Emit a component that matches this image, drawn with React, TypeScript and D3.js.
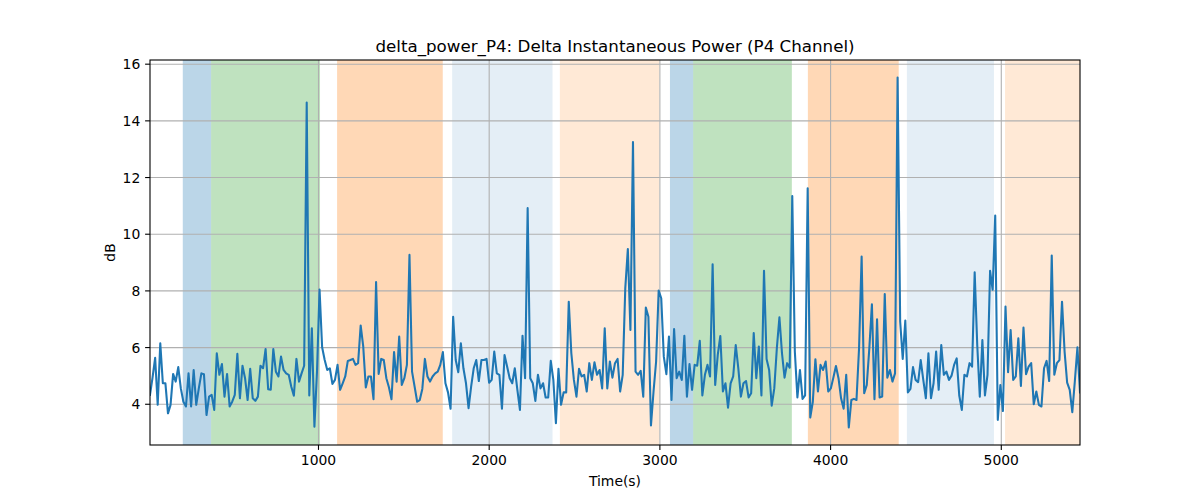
import { useEffect, useRef } from "react";
import * as d3 from "d3";

const WIDTH = 1200;
const HEIGHT = 500;
const MARGIN = { top: 60, right: 120, bottom: 55, left: 150 };

const TITLE = "delta_power_P4: Delta Instantaneous Power (P4 Channel)";
const X_LABEL = "Time(s)";
const Y_LABEL = "dB";

// sampling of the trace (seconds)
const TIME_START = 13;
const TIME_STEP = 15.05;

// delta power in dB, one value per sample
const DB_VALUES = [
  4.33, 4.95, 5.64, 3.98, 6.15, 4.74, 4.74, 3.68, 3.98, 5.07, 4.8,
  5.31, 4.56, 4.09, 3.92, 5.09, 3.92, 5.21, 3.98, 4.56, 5.09,
  5.06, 3.62, 4.27, 4.33, 3.8, 5.8, 5.04, 5.42, 4.27, 5.07,
  3.92, 4.09, 4.33, 5.78, 4.21, 5.36, 4.92, 4.15, 5.25, 4.21,
  4.12, 4.27, 5.36, 5.27, 5.95, 4.53, 4.51, 5.95, 5.15, 4.98,
  5.68, 5.21, 5.09, 5.04, 4.62, 4.3, 5.6, 4.8, 5.09, 5.36, 14.65,
  4.31, 6.68, 3.21, 5.15, 8.05, 6.01, 5.56, 5.21, 5.27, 4.72,
  4.86, 5.39, 4.51, 4.74, 4.98, 5.53, 5.56, 5.6, 5.39,
  5.45, 6.78, 6.04, 4.59, 4.98, 4.98, 4.18, 8.31, 5.07, 5.6,
  5.56, 4.92, 4.6, 4.18, 5.84, 4.8, 6.39, 4.68, 4.92, 5.39,
  9.27, 5.15, 4.62, 4.09, 4.15, 4.54, 5.6, 4.98, 4.8, 4.98,
  5.09, 5.15, 5.39, 5.84, 4.74, 4.42, 3.84, 7.09, 5.56, 5.13, 6.15,
  5.27, 4.74, 3.86, 4.62, 5.27, 5.56, 4.82, 5.56, 5.56, 5.6,
  4.76, 4.86, 5.86, 5.09, 5.04, 3.84, 5.74, 5.33, 4.92, 4.74,
  5.27, 4.51, 3.8, 6.42, 4.92, 10.92, 4.92, 4.74, 4.12, 5.04,
  4.56, 4.74, 4.24, 4.24, 5.53, 4.86, 3.33, 5.25, 3.98, 4.42,
  4.42, 7.62, 5.8, 4.86, 4.27, 5.25, 4.98, 5.04, 4.45, 5.45,
  4.86, 5.48, 5.04, 5.21, 4.56, 6.68, 4.56, 5.51, 4.94, 5.45,
  5.6, 4.45, 5.04, 8.09, 9.48, 6.62, 13.25, 5.15, 5.04, 5.18,
  4.27, 7.41, 7.09, 3.25, 4.45, 5.51, 8.01, 7.74, 5.68, 5.06, 6.39,
  4.15, 6.65, 4.92, 5.15, 4.86, 6.42, 4.27, 5.42, 4.51, 5.39,
  5.36, 6.24, 4.31, 5.04, 5.39, 4.98, 8.94, 4.68, 5.74, 6.41,
  4.45, 4.74, 3.88, 4.74, 4.98, 6.09, 5.27, 4.27, 4.74, 4.82,
  4.24, 4.39, 6.51, 4.92, 6.04, 4.31, 8.71, 5.6, 5.21, 3.95,
  4.56, 5.98, 7.07, 5.8, 4.94, 5.45, 5.29, 11.35, 5.86, 4.24,
  5.21, 4.19, 4.31, 11.62, 3.53, 4.09, 5.59, 4.45, 5.39, 5.21,
  5.51, 4.45, 4.56, 4.94, 5.35, 4.92, 4.21, 3.84, 5.04, 3.18,
  4.15, 4.19, 4.15, 5.98, 9.21, 4.39, 4.68, 5.98, 7.53, 4.18, 7.0,
  4.24, 4.27, 7.89, 4.94, 5.21, 4.8, 5.09, 15.53, 6.92, 5.6,
  6.95, 4.42, 4.54, 5.31, 4.86, 4.78, 5.56, 4.86, 4.21, 5.8,
  4.21, 4.74, 5.86, 4.51, 6.09, 5.04, 5.15, 4.86, 5.01, 5.39,
  5.62, 4.31, 3.8, 5.04, 4.98, 5.45, 5.33, 8.66, 6.09, 4.27, 6.27,
  4.31, 5.04, 8.71, 8.04, 10.66, 3.45, 4.68, 3.76, 7.45, 5.13,
  6.62, 4.86, 4.98, 6.33, 4.65, 6.71, 5.06, 5.33, 5.45, 4.0,
  4.45, 3.98, 3.92, 5.27, 5.53, 4.82, 9.25, 5.04, 5.45, 5.56,
  7.62, 5.86, 4.76, 4.51, 3.72, 4.82, 6.01, 4.42,
];

// shaded phases (seconds)
const SPAN_STARTS = [205, 371, 1109, 1783, 2414, 3059, 3195, 3867, 4447, 5022];
const SPAN_ENDS = [371, 1009, 1728, 2371, 2996, 3195, 3773, 4399, 4957, 5600];
const SPAN_COLORS = ["#1f77b4", "#2ca02c", "#ff7f0e", "#1f77b4", "#ff7f0e", "#1f77b4", "#2ca02c", "#ff7f0e", "#1f77b4", "#ff7f0e"];
const SPAN_ALPHAS = [0.3, 0.3, 0.3, 0.12, 0.17, 0.3, 0.3, 0.3, 0.12, 0.17];

const X_TICKS = [1000, 2000, 3000, 4000, 5000];
const Y_TICKS = [4, 6, 8, 10, 12, 14, 16];

const FONT = "'DejaVu Sans', sans-serif";

export default function App() {
  const svgRef = useRef<SVGSVGElement>(null);

  useEffect(() => {
    const svgEl = svgRef.current;
    if (!svgEl) return;

    const points = DB_VALUES.map((v, i) => ({ t: TIME_START + i * TIME_STEP, v }));
    const x0 = MARGIN.left;
    const x1 = WIDTH - MARGIN.right;
    const y0 = HEIGHT - MARGIN.bottom;
    const y1 = MARGIN.top;

    const x = d3
      .scaleLinear()
      .domain(d3.extent(points, (d) => d.t) as [number, number])
      .range([x0, x1]);

    // matplotlib-style 5% margin on y
    const [vMin, vMax] = d3.extent(points, (d) => d.v) as [number, number];
    const pad = (vMax - vMin) * 0.05;
    const y = d3.scaleLinear().domain([vMin - pad, vMax + pad]).range([y0, y1]);

    const svg = d3.select(svgEl);
    svg.selectAll("*").remove();

    svg
      .append("defs")
      .append("clipPath")
      .attr("id", "plot-clip")
      .append("rect")
      .attr("x", x0)
      .attr("y", y1)
      .attr("width", x1 - x0)
      .attr("height", y0 - y1);

    const plot = svg.append("g").attr("clip-path", "url(#plot-clip)");

    // phase spans
    plot
      .append("g")
      .selectAll("rect")
      .data(SPAN_STARTS)
      .enter()
      .append("rect")
      .attr("x", (d) => x(d))
      .attr("width", (d, i) => x(SPAN_ENDS[i]) - x(d))
      .attr("y", y1)
      .attr("height", y0 - y1)
      .attr("fill", (_, i) => SPAN_COLORS[i])
      .attr("fill-opacity", (_, i) => SPAN_ALPHAS[i]);

    // grid
    plot
      .append("g")
      .selectAll("line")
      .data(X_TICKS)
      .enter()
      .append("line")
      .attr("x1", (d) => x(d))
      .attr("x2", (d) => x(d))
      .attr("y1", y1)
      .attr("y2", y0)
      .attr("stroke", "#b0b0b0")
      .attr("stroke-width", 1.1);
    plot
      .append("g")
      .selectAll("line")
      .data(Y_TICKS)
      .enter()
      .append("line")
      .attr("x1", x0)
      .attr("x2", x1)
      .attr("y1", (d) => y(d))
      .attr("y2", (d) => y(d))
      .attr("stroke", "#b0b0b0")
      .attr("stroke-width", 1.1);

    const line = d3
      .line<{ t: number; v: number }>()
      .x((d) => x(d.t))
      .y((d) => y(d.v));

    plot
      .append("path")
      .datum(points)
      .attr("fill", "none")
      .attr("stroke", "#1f77b4")
      .attr("stroke-width", 2.08)
      .attr("stroke-linejoin", "round")
      .attr("stroke-linecap", "square")
      .attr("d", line);

    // frame
    svg
      .append("rect")
      .attr("x", x0)
      .attr("y", y1)
      .attr("width", x1 - x0)
      .attr("height", y0 - y1)
      .attr("fill", "none")
      .attr("stroke", "#000")
      .attr("stroke-width", 1.1);

    // x ticks
    const xt = svg.append("g").selectAll("g").data(X_TICKS).enter().append("g");
    xt.append("line")
      .attr("x1", (d) => x(d))
      .attr("x2", (d) => x(d))
      .attr("y1", y0)
      .attr("y2", y0 + 4.9)
      .attr("stroke", "#000")
      .attr("stroke-width", 1.1);
    xt.append("text")
      .attr("x", (d) => x(d))
      .attr("y", y0 + 9.7)
      .attr("dy", "0.76em")
      .attr("text-anchor", "middle")
      .attr("font-family", FONT)
      .attr("font-size", 13.9)
      .text((d) => String(d));

    // y ticks
    const yt = svg.append("g").selectAll("g").data(Y_TICKS).enter().append("g");
    yt.append("line")
      .attr("x1", x0 - 4.9)
      .attr("x2", x0)
      .attr("y1", (d) => y(d))
      .attr("y2", (d) => y(d))
      .attr("stroke", "#000")
      .attr("stroke-width", 1.1);
    yt.append("text")
      .attr("x", x0 - 9.7)
      .attr("y", (d) => y(d))
      .attr("dy", "0.36em")
      .attr("text-anchor", "end")
      .attr("font-family", FONT)
      .attr("font-size", 13.9)
      .text((d) => String(d));

    svg
      .append("text")
      .attr("x", (x0 + x1) / 2)
      .attr("y", y1 - 8.3)
      .attr("text-anchor", "middle")
      .attr("font-family", FONT)
      .attr("font-size", 16.7)
      .text(TITLE);

    svg
      .append("text")
      .attr("x", (x0 + x1) / 2)
      .attr("y", 486)
      .attr("text-anchor", "middle")
      .attr("font-family", FONT)
      .attr("font-size", 13.9)
      .text(X_LABEL);

    svg
      .append("text")
      .attr("transform", `translate(115, ${(y0 + y1) / 2}) rotate(-90)`)
      .attr("text-anchor", "middle")
      .attr("font-family", FONT)
      .attr("font-size", 13.9)
      .text(Y_LABEL);
  }, []);

  return (
    <div style={{ position: "absolute", left: 0, top: 0, background: "#fff" }}>
      <svg ref={svgRef} width={WIDTH} height={HEIGHT} style={{ display: "block" }} />
    </div>
  );
}
